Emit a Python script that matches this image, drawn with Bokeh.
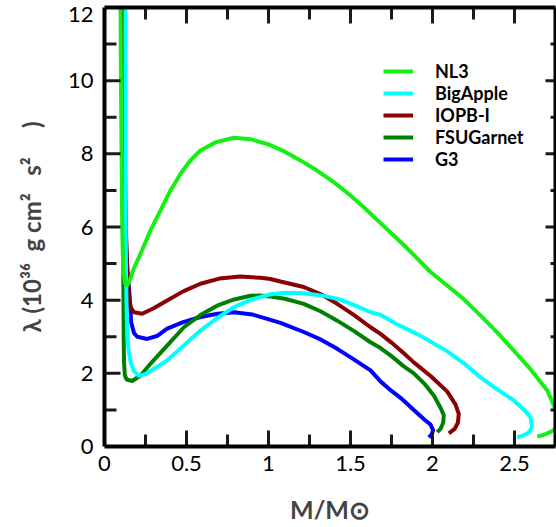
from bokeh.plotting import figure
from bokeh.models import (LinearAxis, Range1d, FixedTicker,
                          CustomJSTickFormatter, Legend, LegendItem)
from bokeh.embed import file_html
from bokeh.resources import INLINE

# Tidal deformability lambda (10^36 g cm^2 s^2) versus stellar mass M/Msun
nl3_mass = [0.097, 0.099, 0.101, 0.104, 0.108, 0.112, 0.118, 0.127, 0.138, 0.155,
            0.18, 0.22, 0.28, 0.341, 0.40, 0.463, 0.52, 0.585, 0.68, 0.789, 0.89,
            0.992, 1.10, 1.195, 1.30, 1.40, 1.50, 1.581, 1.68, 1.785, 1.89, 1.988,
            2.09, 2.19, 2.30, 2.40, 2.496, 2.60, 2.70, 2.74, 2.765, 2.775, 2.77,
            2.756, 2.72, 2.68, 2.638]
nl3_lam = [12.6, 11.0, 9.5, 8.0, 6.0, 5.2, 4.7, 4.45, 4.40, 4.55,
           4.88, 5.27, 5.9, 6.45, 6.98, 7.45, 7.80, 8.09, 8.32, 8.44, 8.40,
           8.27, 8.06, 7.82, 7.53, 7.22, 6.86, 6.54, 6.12, 5.68, 5.22, 4.77,
           4.40, 4.03, 3.55, 3.09, 2.62, 2.10, 1.53, 1.12, 0.85, 0.65, 0.55,
           0.50, 0.40, 0.32, 0.27]

bigapple_mass = [0.127, 0.128, 0.129, 0.131, 0.136, 0.142, 0.148, 0.16, 0.18, 0.209,
                 0.25, 0.30, 0.382, 0.48, 0.585, 0.69, 0.789, 0.90, 1.012, 1.10,
                 1.215, 1.32, 1.419, 1.52, 1.622, 1.683, 1.78, 1.886, 1.99, 2.09,
                 2.19, 2.293, 2.40, 2.496, 2.56, 2.598, 2.607, 2.595, 2.577, 2.545,
                 2.516]
bigapple_lam = [12.6, 9.0, 6.5, 4.8, 3.5, 2.9, 2.6, 2.3, 2.06, 1.93,
                1.98, 2.12, 2.35, 2.75, 3.17, 3.52, 3.81, 4.02, 4.16, 4.20,
                4.19, 4.13, 4.04, 3.87, 3.67, 3.60, 3.35, 3.12, 2.86, 2.60,
                2.28, 1.89, 1.55, 1.26, 1.00, 0.80, 0.55, 0.42, 0.35, 0.29,
                0.25]

iopb_mass = [0.118, 0.124, 0.130, 0.138, 0.145, 0.148, 0.159, 0.179, 0.23, 0.30,
             0.382, 0.48, 0.585, 0.70, 0.829, 0.95, 1.012, 1.073, 1.215, 1.32,
             1.419, 1.52, 1.622, 1.683, 1.75, 1.825, 1.886, 1.99, 2.09, 2.14,
             2.16, 2.155, 2.135, 2.10]
iopb_lam = [12.6, 8.0, 6.0, 5.0, 4.4, 4.17, 3.81, 3.67, 3.63, 3.78,
            3.99, 4.24, 4.45, 4.59, 4.65, 4.61, 4.58, 4.51, 4.36, 4.16,
            3.90, 3.60, 3.26, 3.08, 2.84, 2.55, 2.30, 1.92, 1.50, 1.15,
            0.89, 0.65, 0.48, 0.36]

fsugarnet_mass = [0.112, 0.113, 0.114, 0.115, 0.117, 0.119, 0.124, 0.135, 0.169, 0.22,
                  0.28, 0.382, 0.484, 0.587, 0.687, 0.79, 0.89, 0.95, 1.012, 1.10,
                  1.215, 1.32, 1.419, 1.52, 1.622, 1.683, 1.75, 1.825, 1.886, 1.95,
                  2.01, 2.05, 2.069, 2.065, 2.05, 2.029]
fsugarnet_lam = [12.6, 9.0, 6.5, 4.5, 3.0, 2.3, 1.95, 1.83, 1.79, 1.94,
                 2.26, 2.76, 3.26, 3.60, 3.85, 4.02, 4.12, 4.13, 4.10, 4.04,
                 3.90, 3.69, 3.44, 3.16, 2.85, 2.69, 2.47, 2.19, 2.00, 1.72,
                 1.38, 1.05, 0.85, 0.65, 0.49, 0.39]

g3_mass = [0.115, 0.122, 0.128, 0.135, 0.150, 0.158, 0.162, 0.18, 0.20, 0.26,
           0.32, 0.382, 0.48, 0.585, 0.689, 0.789, 0.90, 1.012, 1.073, 1.215,
           1.32, 1.419, 1.52, 1.622, 1.683, 1.75, 1.805, 1.886, 1.95, 1.988,
           2.004, 1.995, 1.978]
g3_lam = [12.6, 8.0, 6.0, 5.0, 4.3, 3.8, 3.4, 3.1, 3.0, 2.94,
          3.02, 3.22, 3.40, 3.54, 3.63, 3.67, 3.61, 3.46, 3.38, 3.13,
          2.92, 2.67, 2.38, 2.08, 1.78, 1.52, 1.33, 1.00, 0.74, 0.60,
          0.45, 0.33, 0.25]

names = ["NL3", "BigApple", "IOPB-I", "FSUGarnet", "G3"]
colors = ["#14f014", "#00ffff", "#8b0000", "#008000", "#0000ff"]
masses = [nl3_mass, bigapple_mass, iopb_mass, fsugarnet_mass, g3_mass]
lams = [nl3_lam, bigapple_lam, iopb_lam, fsugarnet_lam, g3_lam]

# axis extents and tick values
x_min, x_max = 0, 2.75
y_min, y_max = 0, 12
x_major = [0, 0.5, 1, 1.5, 2, 2.5]
x_minor = [0.25, 0.75, 1.25, 1.75, 2.25]
y_major = [0, 2, 4, 6, 8, 10]
y_minor = [1, 3, 5, 7, 9, 11]
# the "12" label sits a little below the top corner
y_label_pos = [0, 2, 4, 6, 8, 10, 11.8]

FRAME_W, FRAME_H = 451, 439
MAJOR_LEN, MINOR_LEN = 16, 12   # inward tick lengths in pixels
RIGHT_MAJOR_LEN, RIGHT_MINOR_LEN = 10, 5

p = figure(frame_width=FRAME_W, frame_height=FRAME_H,
           x_range=Range1d(x_min, x_max), y_range=Range1d(y_min, y_max),
           output_backend="svg", toolbar_location=None,
           min_border_left=104, min_border_right=1,
           min_border_top=7, min_border_bottom=81)
p.outline_line_color = None
p.xgrid.visible = False
p.ygrid.visible = False
p.background_fill_color = None
p.border_fill_color = None

blank = CustomJSTickFormatter(code="return '';")


def style_axis(ax, labels=True):
    ax.axis_line_width = 4
    ax.axis_line_color = "black"
    ax.major_tick_line_color = None
    ax.minor_tick_line_color = None
    ax.major_tick_out = 0
    ax.minor_tick_out = 0
    if labels:
        ax.major_label_text_font = "Lato"
        ax.major_label_text_font_size = "22px"
        ax.major_label_text_color = "black"
    else:
        ax.formatter = blank
        ax.major_label_standoff = 0


xa = p.xaxis[0]
xa.ticker = FixedTicker(ticks=x_major, minor_ticks=x_minor)
xa.formatter = CustomJSTickFormatter(code="return String(Math.round(tick*100)/100);")
style_axis(xa)
xa.major_label_standoff = 9
xa.axis_label = "M/M\u2299"
xa.axis_label_text_font = "Lato"
xa.axis_label_text_font_style = "bold"
xa.axis_label_text_font_size = "25px"
xa.axis_label_standoff = 20

ya = p.yaxis[0]
ya.ticker = FixedTicker(ticks=y_label_pos)
ya.formatter = CustomJSTickFormatter(code="return String(Math.round(tick));")
style_axis(ya)
ya.major_label_standoff = 11
ya.axis_label = ("\u03bb\u00a0(10\u00b3\u2076\u00a0\u00a0g\u00a0cm\u00b2\u00a0\u00a0\u00a0"
                 "s\u00b2\u00a0\u00a0\u00a0\u00a0\u00a0)")
ya.axis_label_text_font = "Lato"
ya.axis_label_text_font_style = "bold"
ya.axis_label_text_font_size = "24px"
ya.axis_label_standoff = 19

top = LinearAxis(ticker=FixedTicker(ticks=x_major))
style_axis(top, labels=False)
p.add_layout(top, "above")

right = LinearAxis(ticker=FixedTicker(ticks=y_major))
style_axis(right, labels=False)
p.add_layout(right, "right")

renderers = {}
# draw order puts NL3 on top
for name, color, m, lam in reversed(list(zip(names, colors, masses, lams))):
    renderers[name] = p.line(m, lam, line_color=color, line_width=4)

# inward tick marks, drawn after the curves as short segments from each frame edge
dx = (x_max - x_min) / FRAME_W   # data units per pixel along x
dy = (y_max - y_min) / FRAME_H   # data units per pixel along y
tick_x0, tick_y0, tick_x1, tick_y1 = [], [], [], []
for ticks, length in ((x_major, MAJOR_LEN), (x_minor, MINOR_LEN)):
    for t in ticks:
        tick_x0 += [t, t]
        tick_x1 += [t, t]
        tick_y0 += [y_min, y_max]
        tick_y1 += [y_min + length * dy, y_max - length * dy]
for ticks, length, rlength in ((y_major, MAJOR_LEN, RIGHT_MAJOR_LEN),
                               (y_minor, MINOR_LEN, RIGHT_MINOR_LEN)):
    for t in ticks:
        tick_y0 += [t, t]
        tick_y1 += [t, t]
        tick_x0 += [x_min, x_max]
        tick_x1 += [x_min + length * dx, x_max - rlength * dx]
p.segment(x0=tick_x0, y0=tick_y0, x1=tick_x1, y1=tick_y1,
          line_color="#1a1a1a", line_width=3)

legend = Legend(items=[LegendItem(label=n, renderers=[renderers[n]]) for n in names],
                location=(279, 276), orientation="vertical",
                border_line_alpha=0, background_fill_alpha=0,
                label_text_font="Lato", label_text_font_style="bold",
                label_text_font_size="18px", label_text_color="black",
                glyph_width=30, glyph_height=22, label_height=22,
                spacing=0, padding=0, margin=0, label_standoff=22)
p.add_layout(legend)

open("out.html", "w").write(file_html(p, INLINE))
